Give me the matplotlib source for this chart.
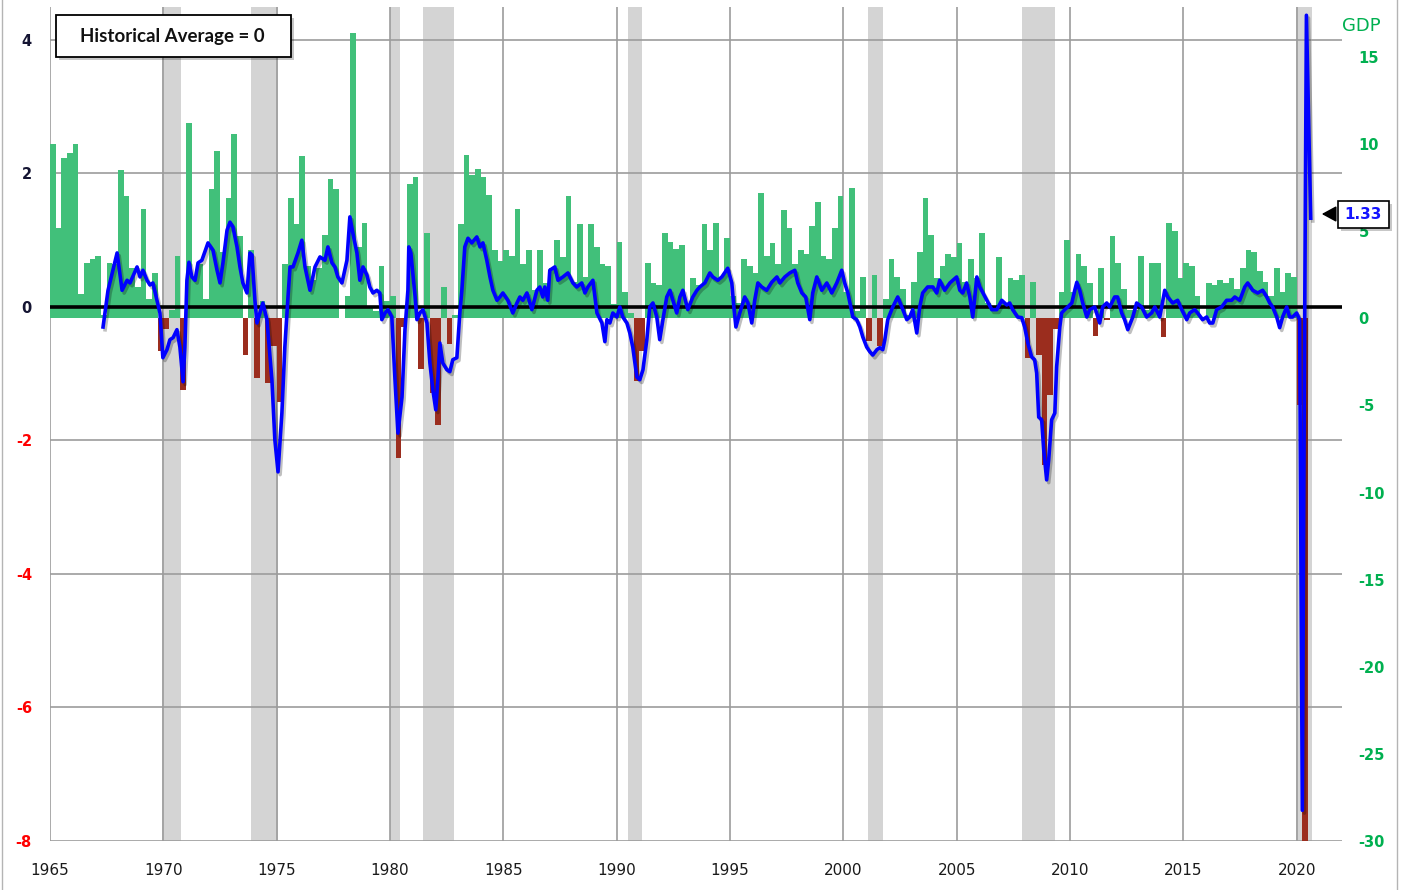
import matplotlib
matplotlib.use("Agg")
import matplotlib.pyplot as plt
import matplotlib.patheffects as pe
import matplotlib.transforms as mtransforms
from matplotlib.patches import Rectangle, FancyArrowPatch
from matplotlib.lines import Line2D
import pandas as pd

# ---------------- data ----------------
gdp_quarters = pd.period_range("1965Q1", "2020Q2", freq="Q")
gdp_growth = [
    10.0, 5.2, 9.2, 9.5,    # 1965
    10.0, 1.4, 3.2, 3.4,    # 1966
    3.6, 0.2, 3.2, 3.1,     # 1967
    8.5, 7.0, 2.9, 1.8,     # 1968
    6.3, 1.1, 2.6, -1.9,    # 1969
    -0.6, 0.5, 3.6, -4.1,   # 1970
    11.2, 2.3, 3.1, 1.1,    # 1971
    7.4, 9.6, 3.8, 6.9,     # 1972
    10.6, 4.7, -2.1, 3.9,   # 1973
    -3.4, 1.0, -3.7, -1.6,  # 1974
    -4.8, 3.1, 6.9, 5.4,    # 1975
    9.3, 3.0, 2.2, 2.9,     # 1976
    4.8, 8.0, 7.4, 0.0,     # 1977
    1.3, 16.4, 4.1, 5.5,    # 1978
    0.7, 0.4, 3.0, 1.0,     # 1979
    1.3, -8.0, -0.5, 7.7,   # 1980
    8.1, -2.9, 4.9, -4.3,   # 1981
    -6.1, 1.8, -1.5, 0.2,   # 1982
    5.4, 9.4, 8.2, 8.6,     # 1983
    8.1, 7.1, 3.9, 3.3,     # 1984
    3.9, 3.6, 6.3, 3.1,     # 1985
    3.9, 1.6, 3.9, 2.0,     # 1986
    2.9, 4.5, 3.5, 7.0,     # 1987
    2.1, 5.4, 2.4, 5.4,     # 1988
    4.1, 3.1, 3.0, 0.8,     # 1989
    4.4, 1.5, 0.3, -3.6,    # 1990
    -1.9, 3.2, 2.0, 1.9,    # 1991
    4.9, 4.4, 4.0, 4.2,     # 1992
    0.7, 2.3, 1.9, 5.4,     # 1993
    3.9, 5.5, 2.4, 4.6,     # 1994
    1.3, 0.9, 3.4, 3.0,     # 1995
    2.6, 7.2, 3.6, 4.3,     # 1996
    3.1, 6.2, 5.2, 3.1,     # 1997
    3.9, 3.7, 5.3, 6.7,     # 1998
    3.6, 3.4, 5.2, 7.0,     # 1999
    1.5, 7.5, 0.4, 2.4,     # 2000
    -1.3, 2.5, -1.6, 1.1,   # 2001
    3.4, 2.4, 1.7, 0.2,     # 2002
    2.1, 3.8, 6.9, 4.8,     # 2003
    2.3, 3.0, 3.7, 3.5,     # 2004
    4.3, 2.1, 3.4, 2.3,     # 2005
    4.9, 0.9, 0.6, 3.5,     # 2006
    0.9, 2.3, 2.2, 2.5,     # 2007
    -2.3, 2.1, -2.1, -8.4,  # 2008
    -4.4, -0.6, 1.5, 4.5,   # 2009
    1.5, 3.7, 3.0, 2.0,     # 2010
    -1.0, 2.9, -0.1, 4.7,   # 2011
    3.2, 1.7, 0.5, 0.5,     # 2012
    3.6, 0.5, 3.2, 3.2,     # 2013
    -1.1, 5.5, 5.0, 2.3,    # 2014
    3.2, 3.0, 1.3, 0.1,     # 2015
    2.0, 1.9, 2.2, 2.0,     # 2016
    2.3, 1.7, 2.9, 3.9,     # 2017
    3.8, 2.7, 2.1, 1.3,     # 2018
    2.9, 1.5, 2.6, 2.4,     # 2019
    -5.0, -31.4,            # 2020
]

index_dates = [
    1967.34, 1967.56, 1967.96, 1968.18, 1968.40, 1968.53, 1968.84, 1968.97, 1969.10, 1969.28,
    1969.41, 1969.54, 1969.72, 1969.85, 1969.98, 1970.16, 1970.29, 1970.43, 1970.60, 1970.73,
    1970.87, 1970.95, 1971.04, 1971.13, 1971.26, 1971.40, 1971.53, 1971.70, 1971.97, 1972.19,
    1972.37, 1972.50, 1972.63, 1972.81, 1972.94, 1973.07, 1973.25, 1973.38, 1973.51, 1973.69,
    1973.82, 1973.91, 1974.04, 1974.13, 1974.26, 1974.39, 1974.57, 1974.79, 1974.92, 1975.06,
    1975.23, 1975.36, 1975.50, 1975.59, 1975.72, 1975.94, 1976.11, 1976.25, 1976.47, 1976.69,
    1976.91, 1977.13, 1977.26, 1977.44, 1977.57, 1977.70, 1977.88, 1978.10, 1978.23, 1978.36,
    1978.54, 1978.67, 1978.81, 1978.98, 1979.11, 1979.25, 1979.42, 1979.55, 1979.64, 1979.78,
    1979.91, 1980.08, 1980.22, 1980.35, 1980.53, 1980.66, 1980.79, 1980.83, 1980.92, 1981.10,
    1981.19, 1981.32, 1981.45, 1981.63, 1981.76, 1981.89, 1982.02, 1982.11, 1982.20, 1982.33,
    1982.51, 1982.64, 1982.77, 1982.95, 1983.08, 1983.17, 1983.30, 1983.44, 1983.61, 1983.83,
    1983.97, 1984.10, 1984.27, 1984.41, 1984.54, 1984.72, 1984.85, 1984.98, 1985.20, 1985.42,
    1985.60, 1985.73, 1985.86, 1986.04, 1986.26, 1986.48, 1986.61, 1986.74, 1986.83, 1986.96,
    1987.05, 1987.27, 1987.41, 1987.63, 1987.85, 1988.07, 1988.24, 1988.46, 1988.60, 1988.73,
    1988.95, 1989.13, 1989.35, 1989.48, 1989.57, 1989.70, 1989.83, 1990.01, 1990.14, 1990.27,
    1990.45, 1990.58, 1990.71, 1990.89, 1991.02, 1991.16, 1991.33, 1991.46, 1991.60, 1991.77,
    1991.90, 1992.04, 1992.21, 1992.35, 1992.48, 1992.65, 1992.79, 1992.92, 1993.14, 1993.36,
    1993.54, 1993.67, 1993.89, 1994.11, 1994.24, 1994.46, 1994.64, 1994.90, 1995.08, 1995.17,
    1995.26, 1995.43, 1995.65, 1995.79, 1995.96, 1996.09, 1996.23, 1996.40, 1996.62, 1996.84,
    1997.07, 1997.20, 1997.42, 1997.64, 1997.86, 1997.99, 1998.17, 1998.34, 1998.52, 1998.65,
    1998.83, 1999.05, 1999.27, 1999.49, 1999.71, 1999.93, 2000.06, 2000.20, 2000.42, 2000.59,
    2000.73, 2000.86, 2001.03, 2001.17, 2001.30, 2001.48, 2001.61, 2001.74, 2001.83, 2001.96,
    2002.18, 2002.40, 2002.58, 2002.80, 2002.93, 2003.06, 2003.24, 2003.37, 2003.50, 2003.72,
    2003.95, 2004.12, 2004.25, 2004.47, 2004.70, 2005.00, 2005.14, 2005.27, 2005.44, 2005.58,
    2005.71, 2005.89, 2006.02, 2006.33, 2006.55, 2006.77, 2006.99, 2007.21, 2007.34, 2007.47,
    2007.69, 2007.87, 2008.00, 2008.14, 2008.31, 2008.44, 2008.53, 2008.62, 2008.75, 2008.84,
    2008.97, 2009.06, 2009.19, 2009.33, 2009.41, 2009.55, 2009.63, 2009.77, 2009.90, 2010.08,
    2010.21, 2010.30, 2010.43, 2010.56, 2010.74, 2010.87, 2011.09, 2011.31, 2011.44, 2011.62,
    2011.75, 2011.97, 2012.10, 2012.28, 2012.41, 2012.55, 2012.77, 2012.94, 2013.16, 2013.38,
    2013.60, 2013.74, 2013.96, 2014.18, 2014.31, 2014.53, 2014.75, 2014.93, 2015.15, 2015.28,
    2015.50, 2015.63, 2015.85, 2016.03, 2016.16, 2016.30, 2016.47, 2016.69, 2016.91, 2017.13,
    2017.27, 2017.49, 2017.71, 2017.84, 2018.06, 2018.28, 2018.50, 2018.68, 2018.81, 2018.94,
    2019.12, 2019.25, 2019.38, 2019.56, 2019.69, 2019.82, 2020.00, 2020.13, 2020.25, 2020.33,
    2020.43, 2020.62,
]
index_values = [
    -0.30, 0.25, 0.81, 0.25, 0.40, 0.36, 0.60, 0.45, 0.55, 0.40,
    0.33, 0.36, 0.10, -0.09, -0.76, -0.64, -0.49, -0.46, -0.34, -0.60,
    -1.12, -0.60, 0.40, 0.67, 0.45, 0.40, 0.66, 0.70, 0.96, 0.85,
    0.55, 0.36, 0.66, 1.15, 1.27, 1.20, 0.90, 0.60, 0.36, 0.21,
    0.81, 0.78, 0.10, -0.24, -0.09, 0.06, -0.19, -1.09, -1.99, -2.47,
    -1.59, -0.60, 0.15, 0.60, 0.60, 0.81, 1.00, 0.60, 0.25, 0.60,
    0.75, 0.70, 0.90, 0.66, 0.60, 0.45, 0.36, 0.70, 1.35, 1.11,
    0.81, 0.40, 0.60, 0.48, 0.30, 0.21, 0.25, 0.21, -0.19, -0.09,
    -0.04, -0.15, -1.09, -1.89, -1.35, -0.34, 0.25, 0.90, 0.81, 0.18,
    -0.19, -0.09, -0.04, -0.24, -0.84, -1.24, -1.54, -1.09, -0.54, -0.84,
    -0.94, -0.97, -0.79, -0.76, -0.09, 0.25, 0.90, 1.03, 0.96, 1.05,
    0.90, 0.96, 0.70, 0.45, 0.25, 0.10, 0.15, 0.21, 0.10, -0.09,
    0.06, 0.15, 0.10, 0.21, -0.04, 0.25, 0.30, 0.15, 0.30, 0.10,
    0.55, 0.60, 0.40, 0.45, 0.51, 0.36, 0.30, 0.36, 0.21, 0.30,
    0.40, -0.09, -0.24, -0.52, -0.19, -0.24, -0.09, -0.15, 0.00, -0.15,
    -0.24, -0.39, -0.60, -1.05, -1.09, -0.94, -0.49, 0.00, 0.06, -0.15,
    -0.49, -0.19, 0.15, 0.25, 0.10, -0.09, 0.15, 0.25, -0.04, 0.15,
    0.25, 0.30, 0.36, 0.51, 0.45, 0.40, 0.45, 0.58, 0.36, 0.00,
    -0.30, -0.09, 0.15, 0.06, -0.24, 0.10, 0.36, 0.30, 0.25, 0.37,
    0.45, 0.36, 0.45, 0.51, 0.55, 0.36, 0.21, 0.15, -0.19, 0.21,
    0.45, 0.25, 0.36, 0.21, 0.36, 0.55, 0.36, 0.21, -0.15, -0.19,
    -0.30, -0.45, -0.60, -0.67, -0.72, -0.64, -0.61, -0.64, -0.49, -0.19,
    0.00, 0.15, 0.00, -0.19, -0.15, -0.04, -0.39, 0.00, 0.21, 0.30,
    0.30, 0.21, 0.40, 0.25, 0.36, 0.45, 0.25, 0.21, 0.36, 0.15,
    -0.15, 0.45, 0.30, 0.10, -0.04, -0.04, 0.10, 0.03, 0.06, -0.04,
    -0.15, -0.16, -0.30, -0.54, -0.75, -0.79, -0.99, -1.65, -1.69, -2.14,
    -2.59, -2.29, -1.69, -1.59, -0.90, -0.30, -0.09, -0.04, 0.00, 0.06,
    0.25, 0.37, 0.25, 0.06, -0.15, -0.04, 0.00, -0.24, 0.00, 0.06,
    0.00, 0.15, 0.15, -0.09, -0.19, -0.34, -0.15, 0.06, 0.00, -0.15,
    -0.09, 0.00, -0.15, 0.25, 0.15, 0.06, 0.10, -0.04, -0.19, -0.09,
    -0.04, -0.09, -0.19, -0.15, -0.24, -0.24, -0.04, 0.00, 0.10, 0.10,
    0.15, 0.10, 0.30, 0.36, 0.25, 0.21, 0.25, 0.15, 0.06, 0.00,
    -0.15, -0.31, -0.15, 0.00, -0.15, -0.15, -0.09, -0.19, -7.54, -1.60,
    4.37, 1.33,
]

recession_starts = [1969.95, 1973.85, 1980.00, 1981.47, 1990.48, 2001.09, 2007.87, 2019.99]
recession_ends = [1970.80, 1975.05, 1980.43, 1982.82, 1991.13, 2001.75, 2009.33, 2020.69]

left_ticks = [4, 2, 0, -2, -4, -6, -8]
right_ticks = [15, 10, 5, 0, -5, -10, -15, -20, -25, -30]
year_ticks = list(range(1965, 2021, 5))
box_text = "Historical Average = 0"
latest_text = "1.33"
right_axis_title = "GDP"

# ---------------- styling ----------------
GREEN_BAR = "#41C07A"
RED_BAR = "#9B2D1E"
GREEN_TXT = "#00B050"
GRID = "#9C9C9C"
BAND = "#D4D4D4"

W, H = 1404, 890
fig = plt.figure(figsize=(W / 100, H / 100), dpi=100)


def fx(px):
    return px / W


def fy(py):
    return 1 - py / H


ax = fig.add_axes([fx(50), fy(841), fx(1342) - fx(50), fy(7) - fy(841)])
ax2 = ax.twinx()
ax.set_xlim(1965, 2022)
ax.set_ylim(-8, 4.494)
ax2.set_ylim(-30, 17.87)

# recession bands
for s, e in zip(recession_starts, recession_ends):
    ax.axvspan(s, e, color=BAND, lw=0, zorder=0)

# grid and ticks on the left axis
ax.set_xticks(year_ticks)
ax.set_xticklabels([str(y) for y in year_ticks])
ax.set_yticks(left_ticks)
ax.set_yticklabels([f"{t:g}" for t in left_ticks])
ax.grid(True, color=GRID, lw=1.2)
ax.set_axisbelow(True)
for sp in list(ax.spines.values()) + list(ax2.spines.values()):
    sp.set_visible(False)
ax.tick_params(axis="both", length=0)
ax.tick_params(axis="x", pad=16, labelsize=11, labelcolor="#1a1a1a")
ax.tick_params(axis="y", pad=13, labelsize=10.5)
for lab, t in zip(ax.get_yticklabels(), left_ticks):
    lab.set_color("#FF0000" if t < 0 else "#141432")
    lab.set_fontweight("bold")

# right axis (GDP)
ax2.set_yticks(right_ticks)
ax2.set_yticklabels([f"{t:g}" for t in right_ticks])
ax2.tick_params(axis="y", length=0, pad=12, labelsize=10.5, labelcolor=GREEN_TXT)
for lab in ax2.get_yticklabels():
    lab.set_fontweight("bold")
ax2.grid(False)

# GDP bars
q_start = [q.year + (q.quarter - 1) / 4 for q in gdp_quarters]
bar_colors = [GREEN_BAR if v >= 0 else RED_BAR for v in gdp_growth]
ax2.bar(q_start, gdp_growth, width=0.25, align="edge", color=bar_colors,
        lw=0, zorder=2)

# zero line of the index (left scale), above bars
zero_tr = mtransforms.blended_transform_factory(ax2.transAxes, ax.transData)
ax2.plot([0, 1], [0, 0], transform=zero_tr, color="black", lw=2.6,
         zorder=3, solid_capstyle="butt")

# index line (left scale), above bars
ax2.plot(index_dates, index_values, transform=ax.transData, color="#0000FF",
         lw=2.6, zorder=4, solid_joinstyle="round",
         path_effects=[pe.SimpleLineShadow(offset=(1.5, -2), shadow_color="black",
                                           alpha=0.25),
                       pe.Normal()])

# "Historical Average = 0" box
fig.add_artist(Rectangle((fx(59), fy(60)), fx(291) - fx(56), 42 / H,
                         transform=fig.transFigure, facecolor="black",
                         alpha=0.22, lw=0, zorder=5))
fig.add_artist(Rectangle((fx(56), fy(57)), fx(291) - fx(56), 42 / H,
                         transform=fig.transFigure, facecolor="white",
                         edgecolor="black", lw=1.3, zorder=6))
fig.text(fx(172), fy(36.5), box_text, ha="center", va="center",
         family="Lato", fontweight="bold", fontsize=13.5, color="#111111",
         zorder=7)

# latest value callout
fig.add_artist(Rectangle((fx(1341), fy(231)), 51 / W, 27 / H,
                         transform=fig.transFigure, facecolor="black",
                         alpha=0.22, lw=0, zorder=5))
fig.add_artist(Rectangle((fx(1338), fy(228)), 51 / W, 27 / H,
                         transform=fig.transFigure, facecolor="white",
                         edgecolor="black", lw=1.2, zorder=6))
fig.text(fx(1363.5), fy(214.5), latest_text, ha="center", va="center",
         fontweight="bold", fontsize=11, color="#1414FF", zorder=7)
fig.add_artist(FancyArrowPatch((fx(1337), fy(214)), (fx(1319), fy(214)),
                               transform=fig.transFigure,
                               arrowstyle="-|>,head_length=0.55,head_width=0.3",
                               mutation_scale=16, color="black", lw=1.2,
                               zorder=7))

# right axis title
fig.text(fx(1342), fy(26), right_axis_title, ha="left", va="center",
         color=GREEN_TXT, fontsize=13)

# outer frame lines
for xpx in (2, 1397):
    fig.add_artist(Line2D([fx(xpx), fx(xpx)], [0, 1], transform=fig.transFigure,
                          color="#B4B4B4", lw=1.0, zorder=1))

fig.savefig("out.png", dpi=100, facecolor="white")
